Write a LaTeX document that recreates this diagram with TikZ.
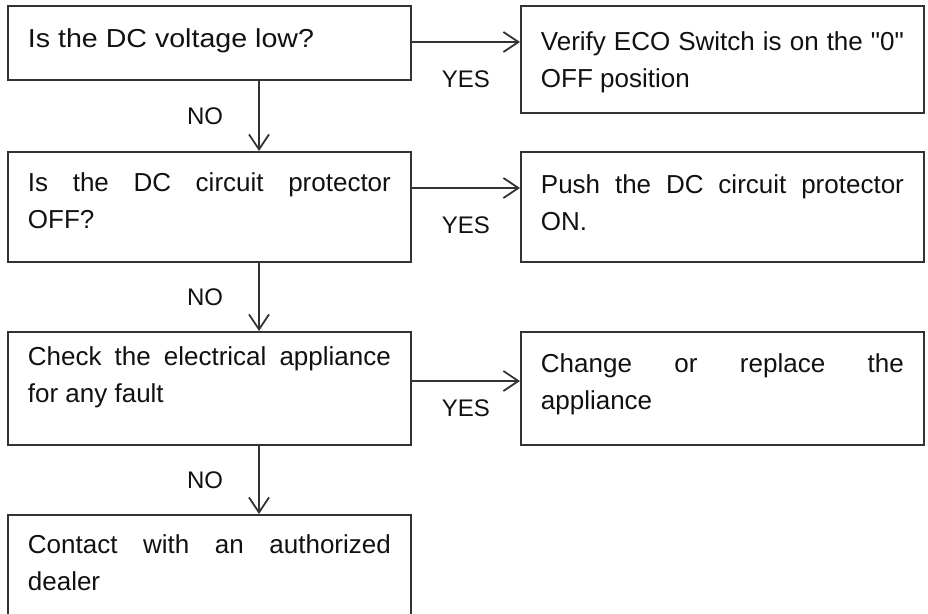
\documentclass[tikz,border=0pt]{standalone}
\usepackage{fontspec}
\setmainfont{Liberation Sans}[Ligatures=TeXOff]
\usetikzlibrary{arrows.meta,positioning}
\definecolor{ink}{HTML}{111111}
\definecolor{frame}{HTML}{333333}
\newcommand{\cell}[3][41pt]{\parbox[t][#2][t]{363pt}{\hyphenpenalty=10000\tolerance=10000\hbadness=10000\rule{0pt}{#1}#3}}

\begin{document}
\begin{tikzpicture}[
  x=1pt,y=-1pt,
  every node/.style={font=\fontsize{26pt}{37pt}\selectfont,text=ink},
  box/.style={draw=frame,line width=1.8pt,anchor=north west,inner xsep=20pt,inner ysep=0pt},
  tag/.style={font=\fontsize{24pt}{28pt}\selectfont,inner sep=0pt},
  arrow/.style={-{Straight Barb[length=15pt,width=20pt]},line width=1.8pt,draw=frame}
]
\useasboundingbox (0,0) rectangle (928,613);
\node[box] (low) at (7,5) {\cell[42pt]{74pt}{\scalebox{1.1}[1]{Is the DC voltage low?}}};
\node[box] (cpoff) at (7,151) {\cell[40pt]{110pt}{Is the DC circuit protector\linebreak OFF?}};
\node[box] (fault) at (7,331) {\cell[34pt]{113pt}{Check the electrical appliance for any fault}};
\node[box] (dealer) at (7,514) {\cell[39pt]{120pt}{Contact with an authorized\linebreak dealer}};
\node[box] (eco) at (520,5) {\cell[45pt]{107pt}{Verify ECO Switch is on the "0"\linebreak OFF position}};
\node[box] (push) at (520,151) {\cell[42pt]{110pt}{Push the DC circuit protector\linebreak ON.}};
\node[box] (replace) at (520,331) {\cell[41pt]{113pt}{Change or replace the\linebreak appliance}};
\draw[arrow] ([yshift=-37pt]low.north east) -- ([yshift=-37pt]eco.north west) node[tag,midway,below=28pt] {YES};
\draw[arrow] ([yshift=-37pt]cpoff.north east) -- ([yshift=-37pt]push.north west) node[tag,midway,below=28pt] {YES};
\draw[arrow] ([yshift=-50pt]fault.north east) -- ([yshift=-50pt]replace.north west) node[tag,midway,below=18pt] {YES};
\draw[arrow] ([xshift=252pt]low.south west) -- ([xshift=252pt]cpoff.north west) node[tag,midway,left=35pt] {NO};
\draw[arrow] ([xshift=252pt]cpoff.south west) -- ([xshift=252pt]fault.north west) node[tag,midway,left=35pt] {NO};
\draw[arrow] ([xshift=252pt]fault.south west) -- ([xshift=252pt]dealer.north west) node[tag,midway,left=35pt] {NO};
\end{tikzpicture}
\end{document}
